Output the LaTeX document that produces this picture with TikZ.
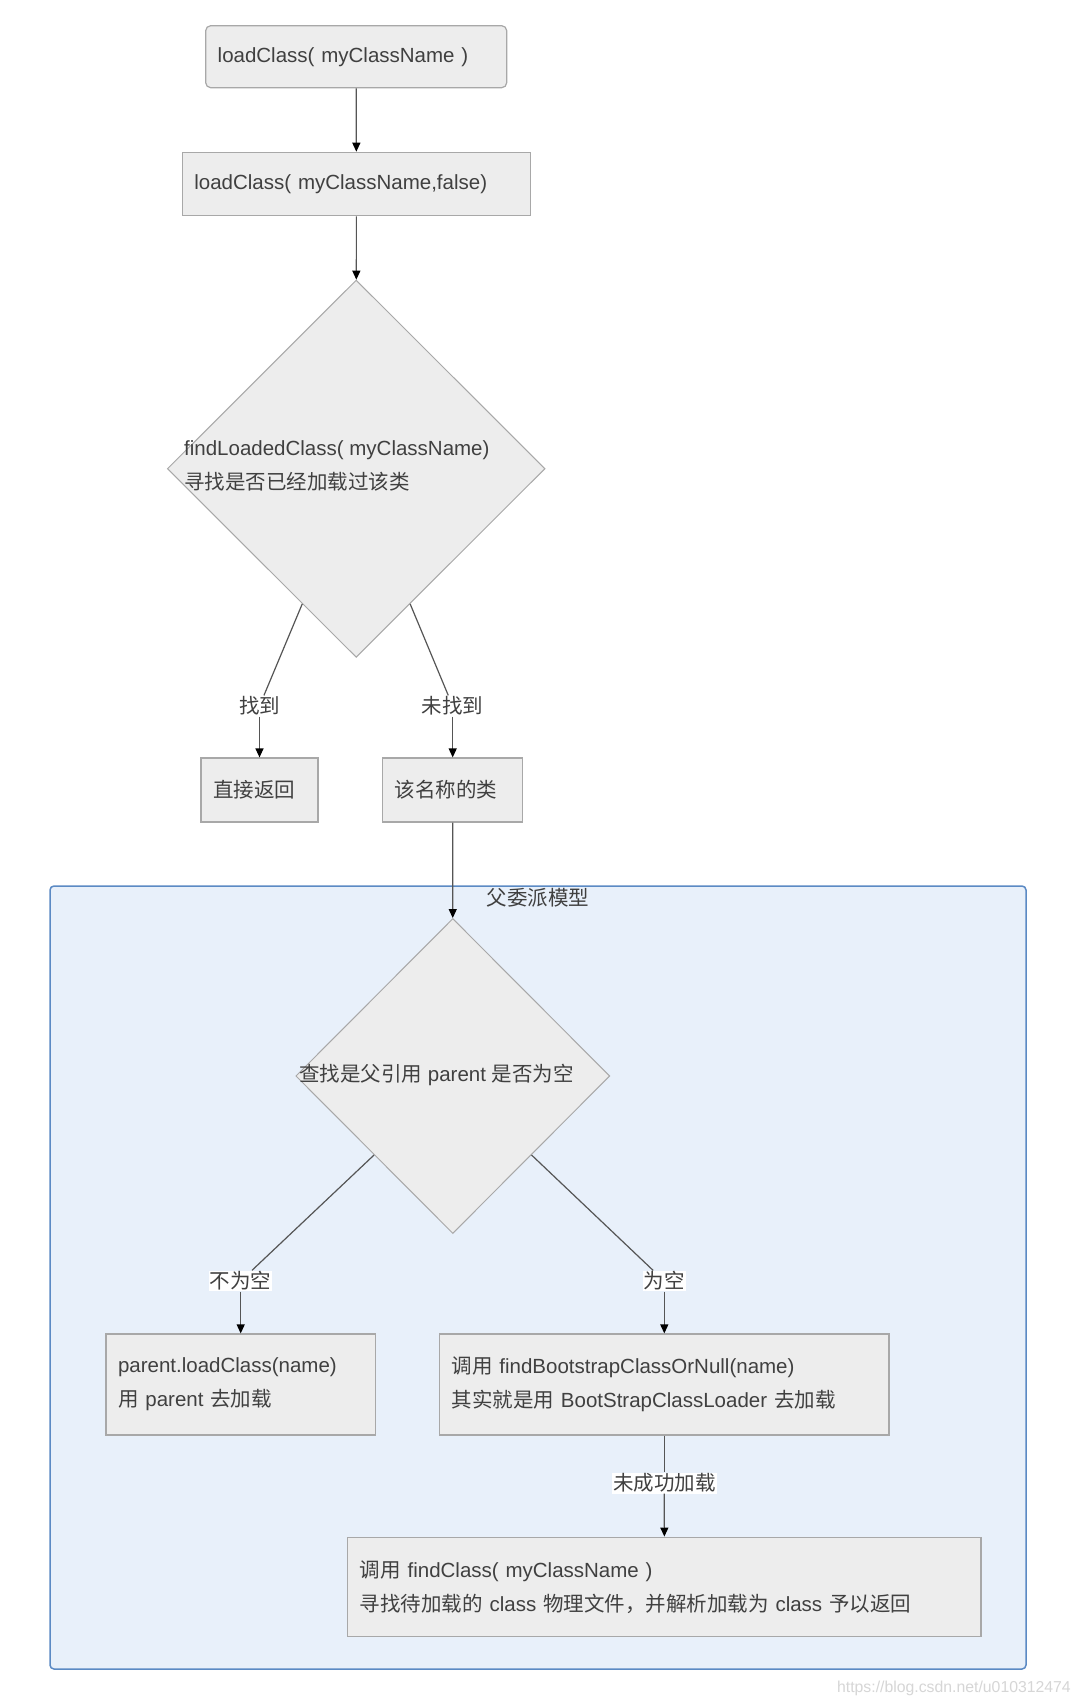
\documentclass[tikz,border=0pt]{standalone}
\usepackage{fontspec}
\setmainfont{Liberation Sans}
\newfontfamily\zh{Noto Sans CJK SC}
\usetikzlibrary{shapes.geometric,arrows.meta,calc}
\definecolor{boxfill}{HTML}{EDEDED}
\definecolor{boxline}{HTML}{A8A8A8}
\definecolor{txt}{HTML}{404040}
\definecolor{edgec}{HTML}{555555}
\definecolor{grpfill}{HTML}{E8F0FA}
\definecolor{grpline}{HTML}{5B8AC4}
\definecolor{wmark}{HTML}{D6D6D6}
\begin{document}
\begin{tikzpicture}[x=1pt,y=-1pt,
  font=\fontsize{20.5}{34}\selectfont, text=txt,
  box/.style={rectangle, draw=boxline, fill=boxfill, line width=1.2pt,
    inner xsep=12pt, inner ysep=0pt, align=left},
  diam/.style={diamond, draw=boxline, fill=boxfill, line width=1pt, inner sep=0pt},
  lab/.style={fill=white, inner sep=1pt, text=txt},
  conn/.style={draw=edgec, line width=1.2pt},
  arr/.style={conn, -{Triangle[length=9pt,width=8pt,color=black]}}]
\useasboundingbox (0,0) rectangle (1081,1706);
\fill[white] (0,0) rectangle (1081,1706);

% group container
\node[draw=grpline, fill=grpfill, line width=1.5pt, rounded corners=4pt,
  minimum width=976pt, minimum height=783pt, inner sep=0pt] (grp) at (538,1277.5) {};
\node[inner sep=0pt] (grpt) at (538,898) {\zh 父委派模型};

% top boxes
\node[box, rounded corners=5pt, minimum width=301pt, minimum height=62pt, text width=277pt] (b1) at (356.2,56.7) {loadClass( myClassName )};
\node[box, minimum width=348pt, minimum height=63.4pt, text width=324pt] (b2) at (356.4,184) {loadClass( myClassName,false)};

% diamond 1
\node[diam, minimum width=377.7pt, minimum height=377.3pt] (d1) at (356.2,468.7) {};
\node[inner sep=0pt, anchor=west, align=left] (d1t) at (184,465.7) {findLoadedClass( myClassName)\\{\zh 寻找是否已经加载过该类}};

\node[box, minimum width=117pt, minimum height=64pt, text width=93pt] (b3) at (259.5,790) {\zh 直接返回};
\node[box, minimum width=140pt, minimum height=64pt, text width=116pt] (b4) at (452.7,790) {\zh 该名称的类};

\node[lab] (l1) at (259.5,706) {\zh 找到};
\node[lab] (l2) at (452.7,706) {\zh 未找到};

% diamond 2
\node[diam, minimum width=314pt, minimum height=315pt] (d2) at (452.8,1076) {};
\node[inner sep=0pt, anchor=west] (d2t) at (299,1075) {{\zh 查找是父引用} parent {\zh 是否为空}};

\node[box, minimum width=269.3pt, minimum height=101pt, text width=245.3pt] (b5) at (240.7,1384.5) {parent.loadClass(name)\\{\zh 用} parent {\zh 去加载}};
\node[box, minimum width=449.4pt, minimum height=101pt, text width=425.4pt] (b6) at (664.3,1384.5) {{\zh 调用} findBootstrapClassOrNull(name)\\{\zh 其实就是用} BootStrapClassLoader {\zh 去加载}};
\node[box, minimum width=633.2pt, minimum height=99.7pt, text width=609.2pt] (b7) at (664.4,1587) {{\zh 调用} findClass( myClassName )\\{\zh 寻找待加载的} class {\zh 物理文件，并解析加载为} class {\zh 予以返回}};

\node[lab] (l3) at (240.7,1281) {\zh 不为空};
\node[lab] (l4) at (664.3,1281) {\zh 为空};
\node[lab] (l5) at (664.3,1483) {\zh 未成功加载};

% connectors
\draw[arr] (b1) -- (b2);
\draw[arr] (b2) -- (d1);
\coordinate (s1) at ($(d1.west)!0.715!(d1.south)$);
\coordinate (s2) at ($(d1.east)!0.715!(d1.south)$);
\draw[conn] (s1) -- (l1);
\draw[arr] (l1) -- (b3);
\draw[conn] (s2) -- (l2);
\draw[arr] (l2) -- (b4);
\draw[arr] (b4) -- (d2);
\coordinate (s3) at ($(d2.west)!0.5!(d2.south)$);
\coordinate (s4) at ($(d2.east)!0.5!(d2.south)$);
\draw[conn] (s3) -- (l3);
\draw[arr] (l3) -- (b5);
\draw[conn] (s4) -- (l4);
\draw[arr] (l4) -- (b6);
\draw[conn] (b6) -- (l5);
\draw[arr] (l5) -- (b7);

% watermark
\node[text=wmark, font=\fontsize{15.8}{18}\selectfont, inner sep=0pt, anchor=east] (wm) at (1071,1688) {https://blog.csdn.net/u010312474};
\end{tikzpicture}
\end{document}
